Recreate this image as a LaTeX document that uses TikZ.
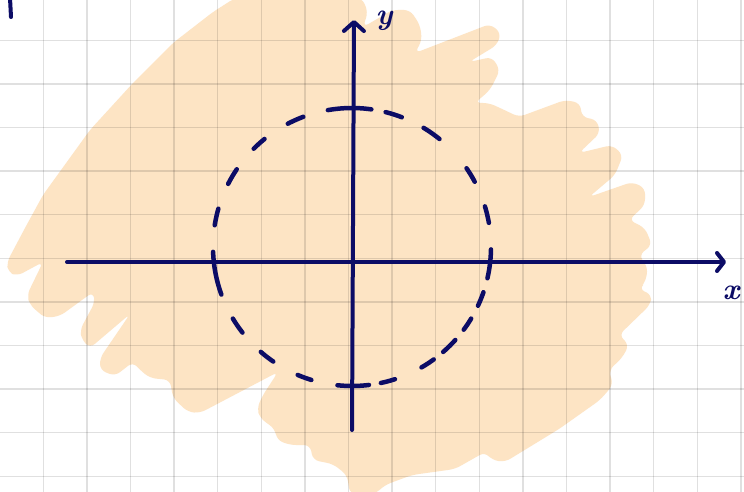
\documentclass[tikz,border=0pt]{standalone}
\usetikzlibrary{arrows.meta}
\definecolor{navy}{RGB}{12,12,102}
\definecolor{peach}{RGB}{253,228,196}
\begin{document}
\begin{tikzpicture}[x=1pt,y=-1pt,
  axis/.style={navy,line width=4pt,line cap=round,line join=round},
  dashseg/.style={navy,line width=4.5pt,line cap=round,line join=round},
  gridline/.style={black,opacity=0.12,line width=1.3pt},
  lbl/.style={navy,inner sep=0pt,font=\fontsize{30}{30}\selectfont\bfseries\itshape}]
\useasboundingbox (0,0) rectangle (744,492);
\fill[white] (0,0) rectangle (744,492);
% peach scribble
\fill[peach, rounded corners=6pt] (7,262) -- (25,228) -- (43,195) -- (90,130) -- (133,83) -- (173,43) -- (213,12) -- (235,-2) -- (362,-2) -- (368,12) -- (363,27) -- (372,22) -- (392,10) -- (410,10) -- (420,25) -- (422,40) -- (415,53) -- (490,24) -- (501,33) -- (497,45) -- (469,62) -- (492,57) -- (500,70) -- (490,90) -- (475,103) -- (489,103) -- (500,108) -- (519,117) -- (565,100) -- (580,103) -- (582,117) -- (597,120) -- (600,133) -- (579,153) -- (612,145) -- (623,155) -- (615,175) -- (589,197) -- (632,182) -- (645,188) -- (645,205) -- (629,220) -- (645,228) -- (652,245) -- (639,255) -- (648,268) -- (645,283) -- (639,289) -- (652,295) -- (650,305) -- (619,335) -- (629,345) -- (622,358) -- (609,370) -- (613,385) -- (600,400) -- (559,429) -- (505,462) -- (492,460) -- (485,452) -- (455,469) -- (412,475) -- (385,485) -- (375,494) -- (350,494) -- (347,475) -- (333,464) -- (313,460) -- (310,445) -- (290,445) -- (277,440) -- (275,429) -- (260,418) -- (257,408) -- (263,395) -- (278,372) -- (200,413) -- (188,412) -- (173,398) -- (170,380) -- (150,378) -- (140,370) -- (133,362) -- (115,376) -- (100,370) -- (100,358) -- (130,314) -- (90,348) -- (82,340) -- (80,330) -- (95,302) -- (93,292) -- (60,316) -- (45,318) -- (30,305) -- (27,295) -- (43,262) -- (17,276) -- (8,272) -- cycle;
% grid
\foreach \i in {0,...,16} \draw[gridline] ({43.3+43.6*\i},0) -- ({43.3+43.6*\i},492);
\foreach \j in {0,...,10} \draw[gridline] (0,{40.3+43.6*\j}) -- (744,{40.3+43.6*\j});
% axes
\coordinate (xs) at (67,262);
\coordinate (xe) at (726,262);
\coordinate (ys) at (352,430);
\coordinate (ye) at (354,20);
\draw[axis,-{Straight Barb[length=7pt,width=18pt,line cap=round,line join=round]}] (xs) -- (xe);
\draw[axis,-{Straight Barb[length=9pt,width=20pt,line cap=round,line join=round]}] (ys) -- (ye);
% dashed circle (center 352,247, r 139)
\foreach \a/\b in {82/100, 69/76, 51/59, 28/34.5, 10/17, -13/-1, -25/-19, -36.5/-31, -49/-42, -60/-54, -78/-72, -96/-83, -113/-107, -131/-124.5, -149/-142, -178/-160, 164/171, 146/153, 129/135, 110.5/117.5}
  \draw[dashseg] plot[domain=\a:\b, samples=12] ({352+139*cos(\x)}, {247-139*sin(\x)});
% labels
\node[lbl] (ylab) at (384,21) {y};
\node[lbl] (xlab) at (731,293) {x};
% corner stroke
\coordinate (m1) at (10,-2);
\coordinate (m2) at (11,17);
\draw[axis] (m1) -- (m2);
\end{tikzpicture}
\end{document}
